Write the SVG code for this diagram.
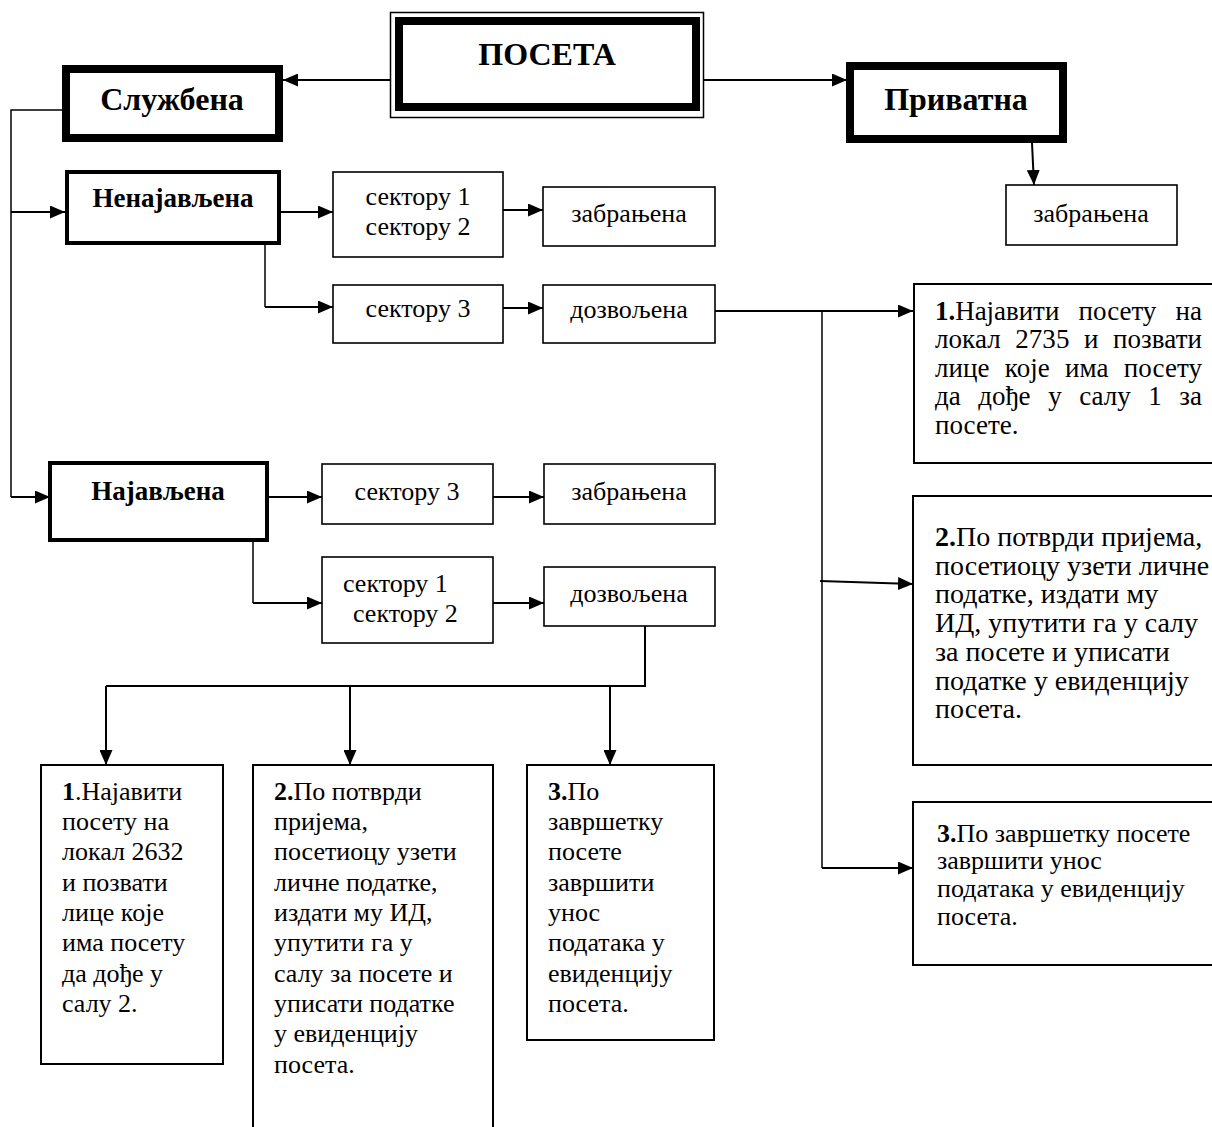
<svg xmlns="http://www.w3.org/2000/svg" width="1212" height="1127" viewBox="0 0 1212 1127">
<style>
text{font-family:"Liberation Serif","Times New Roman",serif;fill:#000}
.t{font-size:26px}
.t27{font-size:27px}
.t28{font-size:28px}
.c{text-anchor:middle}
.h1{font-size:32px;font-weight:bold}
.h2{font-size:27px;font-weight:bold}
.b{font-weight:bold}
.box{fill:#fff;stroke:#000;stroke-width:1.6}
.box2{fill:#fff;stroke:#000;stroke-width:2}
.thick{fill:#fff;stroke:#000;stroke-width:8}
.med{fill:#fff;stroke:#000;stroke-width:4}
.ln{fill:none;stroke:#000;stroke-width:2}
.ln1{fill:none;stroke:#000;stroke-width:1.5}
.ar{marker-end:url(#ah)}
</style>
<defs>
<marker id="ah" markerUnits="userSpaceOnUse" markerWidth="15" markerHeight="13" refX="15" refY="6.5" orient="auto"><path d="M0,0 L15,6.5 L0,13 z" fill="#000"/></marker>
</defs>
<rect width="1212" height="1127" fill="#fff"/>
<g id="connectors">
<path class="ln ar" d="M390,80 H283"/>
<path class="ln ar" d="M703,80 H847"/>
<path class="ln ar" d="M1032,143 L1034,185"/>
<path class="ln1" d="M62,110 H11 V497"/>
<path class="ln ar" d="M11,497 H50"/>
<path class="ln ar" d="M11,212 H65"/>
<path class="ln ar" d="M281,212 H333"/>
<path class="ln1" d="M265,245 V307"/>
<path class="ln ar" d="M265,307 H333"/>
<path class="ln ar" d="M503,210 H543"/>
<path class="ln ar" d="M503,308 H543"/>
<path class="ln ar" d="M715,311 H913"/>
<path class="ln1" d="M822,311 V868"/>
<path class="ln ar" d="M822,868 H913"/>
<path class="ln ar" d="M820,581 L913,584"/>
<path class="ln ar" d="M267,497 H322"/>
<path class="ln1" d="M253,540 V603"/>
<path class="ln ar" d="M253,603 H322"/>
<path class="ln ar" d="M493,497 H544"/>
<path class="ln ar" d="M493,603 H544"/>
<path class="ln" d="M645,626 V686 H106"/>
<path class="ln ar" d="M106,686 V765"/>
<path class="ln ar" d="M350,686 V765"/>
<path class="ln ar" d="M610,686 V765"/>
</g>
<g id="poseta">
<rect x="390.5" y="12.5" width="313" height="105" fill="#fff" stroke="#000" stroke-width="1.5"/>
<rect x="399" y="21" width="297" height="86" class="thick"/>
<text class="h1 c" x="547" y="65">ПОСЕТА</text>
</g>
<g id="sluzbena">
<rect x="66" y="69" width="213" height="69" class="thick"/>
<text class="h1 c" x="172" y="110">Службена</text>
</g>
<g id="privatna">
<rect x="850" y="66" width="213" height="73" class="thick"/>
<text class="h1 c" x="956" y="110">Приватна</text>
</g>
<g id="zabranjena-p">
<rect x="1006" y="185" width="171" height="60" class="box"/>
<text class="t c" x="1091" y="222">забрањена</text>
</g>
<g id="nenajavljena">
<rect x="67" y="172" width="212" height="71" class="med"/>
<text class="h2 c" x="173" y="207">Ненајављена</text>
</g>
<g id="sektor12-n">
<rect x="333" y="172" width="170" height="85" class="box"/>
<text class="t c" x="418" y="205">сектору 1</text>
<text class="t c" x="418" y="235">сектору 2</text>
</g>
<g id="zabranjena-n">
<rect x="543" y="187" width="172" height="59" class="box"/>
<text class="t c" x="629" y="222">забрањена</text>
</g>
<g id="sektor3-n">
<rect x="333" y="285" width="170" height="58" class="box"/>
<text class="t c" x="418" y="317">сектору 3</text>
</g>
<g id="dozvoljena-n">
<rect x="543" y="285" width="172" height="58" class="box"/>
<text class="t c" x="629" y="318">дозвољена</text>
</g>
<g id="najavljena">
<rect x="50" y="463" width="217" height="77" class="med"/>
<text class="h2 c" x="158" y="500">Најављена</text>
</g>
<g id="sektor3-j">
<rect x="322" y="464" width="171" height="60" class="box"/>
<text class="t c" x="407" y="500">сектору 3</text>
</g>
<g id="zabranjena-j">
<rect x="544" y="464" width="171" height="60" class="box"/>
<text class="t c" x="629" y="500">забрањена</text>
</g>
<g id="sektor12-j">
<rect x="322" y="557" width="171" height="86" class="box"/>
<text class="t" x="343" y="592">сектору 1</text>
<text class="t" x="353" y="622">сектору 2</text>
</g>
<g id="dozvoljena-j">
<rect x="544" y="567" width="171" height="59" class="box"/>
<text class="t c" x="629" y="602">дозвољена</text>
</g>
<g id="r1">
<rect x="914" y="284" width="310" height="179" class="box2"/>
<text class="t27" x="935" y="320" word-spacing="12.6" textLength="267" lengthAdjust="spacing"><tspan class="b">1.</tspan>Најавити посету на</text>
<text class="t27" x="935" y="348" word-spacing="7.7" textLength="267" lengthAdjust="spacing">локал 2735 и позвати</text>
<text class="t27" x="935" y="377" word-spacing="8.5" textLength="267" lengthAdjust="spacing">лице које има посету</text>
<text class="t27" x="935" y="405" word-spacing="10.8" textLength="267" lengthAdjust="spacing">да дође у салу 1 за</text>
<text class="t27" x="935" y="434">посете.</text>
</g>
<g id="r2">
<rect x="913" y="496" width="310" height="269" class="box2"/>
<text class="t28" x="935" y="546"><tspan class="b">2.</tspan>По потврди пријема,</text>
<text class="t28" x="935" y="575">посетиоцу узети личне</text>
<text class="t28" x="935" y="603">податке, издати му</text>
<text class="t28" x="935" y="632">ИД, упутити га у салу</text>
<text class="t28" x="935" y="661">за посете и уписати</text>
<text class="t28" x="935" y="690">податке у евиденцију</text>
<text class="t28" x="935" y="718">посета.</text>
</g>
<g id="r3">
<rect x="913" y="802" width="310" height="163" class="box2"/>
<text class="t" x="937" y="842"><tspan class="b">3.</tspan>По завршетку посете</text>
<text class="t" x="937" y="869">завршити унос</text>
<text class="t" x="937" y="897">података у евиденцију</text>
<text class="t" x="937" y="925">посета.</text>
</g>
<g id="b1">
<rect x="41" y="765" width="182" height="299" class="box2"/>
<text class="t" x="62" y="800"><tspan class="b">1</tspan>.Најавити</text>
<text class="t" x="62" y="830">посету на</text>
<text class="t" x="62" y="860">локал 2632</text>
<text class="t" x="62" y="891">и позвати</text>
<text class="t" x="62" y="921">лице које</text>
<text class="t" x="62" y="951">има посету</text>
<text class="t" x="62" y="982">да дође у</text>
<text class="t" x="62" y="1012">салу 2.</text>
</g>
<g id="b2">
<rect x="253" y="765" width="240" height="400" class="box2"/>
<text class="t" x="274" y="800"><tspan class="b">2.</tspan>По потврди</text>
<text class="t" x="274" y="830">пријема,</text>
<text class="t" x="274" y="860">посетиоцу узети</text>
<text class="t" x="274" y="891">личне податке,</text>
<text class="t" x="274" y="921">издати му ИД,</text>
<text class="t" x="274" y="951">упутити га у</text>
<text class="t" x="274" y="982">салу за посете и</text>
<text class="t" x="274" y="1012">уписати податке</text>
<text class="t" x="274" y="1042">у евиденцију</text>
<text class="t" x="274" y="1073">посета.</text>
</g>
<g id="b3">
<rect x="527" y="765" width="187" height="275" class="box2"/>
<text class="t" x="548" y="800"><tspan class="b">3.</tspan>По</text>
<text class="t" x="548" y="830">завршетку</text>
<text class="t" x="548" y="860">посете</text>
<text class="t" x="548" y="891">завршити</text>
<text class="t" x="548" y="921">унос</text>
<text class="t" x="548" y="951">података у</text>
<text class="t" x="548" y="982">евиденцију</text>
<text class="t" x="548" y="1012">посета.</text>
</g>
</svg>
